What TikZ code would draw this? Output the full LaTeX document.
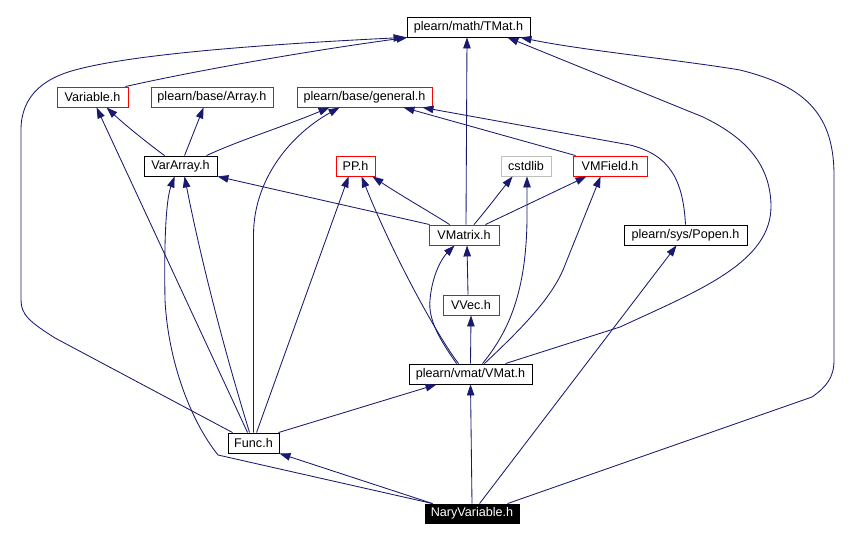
\documentclass[tikz,border=0pt]{standalone}
\usepackage{fontspec}
\setmainfont{Liberation Sans}
\usetikzlibrary{arrows.meta}
\definecolor{edgecol}{HTML}{191970}
\definecolor{grayb}{HTML}{BFBFBF}
\begin{document}
\begin{tikzpicture}[x=1pt,y=-1pt,
  box/.style={draw=black, line width=0.9pt, minimum height=20pt, inner sep=0pt, fill=white,
    font=\fontsize{12.6}{14}\selectfont},
  redbox/.style={box, draw=red},
  graybox/.style={box, draw=grayb},
  darkbox/.style={box, fill=black, text=white, minimum height=19pt},
  edge/.style={draw=edgecol, line width=0.85pt, -{Triangle[length=11pt,width=7.5pt]}},
]
\useasboundingbox[fill=white] (0,0) rectangle (853,540);

% nodes
\node[box, minimum width=123pt] (tmat) at (468.5,27) {plearn/math/TMat.h};
\node[redbox, minimum width=71pt] (variable) at (92.5,97) {Variable.h};
\node[redbox, minimum width=122pt] (array) at (212,97) {plearn/base/Array.h};
\node[redbox, minimum width=135pt] (general) at (364.5,97) {plearn/base/general.h};
\node[box, minimum width=73pt] (vararray) at (180.5,166) {VarArray.h};
\node[redbox, minimum width=39pt] (pp) at (355.5,166) {PP.h};
\node[graybox, minimum width=50pt] (cstdlib) at (526,166) {cstdlib};
\node[redbox, minimum width=74pt] (vmfield) at (610,166) {VMField.h};
\node[redbox, minimum width=70pt] (vmatrix) at (464,235) {VMatrix.h};
\node[box, minimum width=123pt] (popen) at (685.5,235) {plearn/sys/Popen.h};
\node[redbox, minimum width=56pt] (vvec) at (471,305) {VVec.h};
\node[box, minimum width=123pt] (vmat) at (470.5,374) {plearn/vmat/VMat.h};
\node[box, minimum width=51pt] (func) at (253.5,443) {Func.h};
\node[darkbox, minimum width=94pt] (nary) at (472,513.5) {NaryVariable.h};

% edges from NaryVariable.h
\draw[edge] ([xshift=8pt]nary.north west) -- (func.south east);
\draw[edge] (nary.north) -- (vmat.south);
\draw[edge] ([xshift=55pt]nary.north west) -- ([xshift=53pt]popen.south west);
\draw[edge] ([xshift=83pt]nary.north west) -- (812,397)
  .. controls (826,387) and (834,378) .. (834,360) -- (834,175)
  .. controls (834,110) and (800,85) .. (740,70)
  .. controls (680,60) and (580,50) .. ([xshift=-10pt]tmat.south east);
\draw[edge] ([xshift=8pt]nary.north west) -- (218,455)
  .. controls (190,420) and (168,360) .. (165,300)
  .. controls (164,240) and (166,200) .. ([xshift=31pt]vararray.south west);

% edges from Func.h
\draw[edge] ([xshift=5pt]func.north west) -- (55,338)
  .. controls (30,322) and (21,315) .. (21,300) -- (21,130)
  .. controls (21,95) and (45,78) .. (75,70)
  .. controls (130,55) and (250,45) .. ([xshift=-2pt]tmat.south west);
\draw[edge] ([xshift=20pt]func.north west) -- ([xshift=40pt]variable.south west);
\draw[edge] ([xshift=22pt]func.north west)
  .. controls (215,320) and (195,230) .. ([xshift=41pt]vararray.south west);
\draw[edge] (func.north) -- (253.5,235)
  .. controls (253.5,180) and (290,135) .. ([xshift=43pt]general.south west);
\draw[edge] ([xshift=29pt]func.north west) -- ([xshift=13pt]pp.south west);
\draw[edge] ([xshift=-1pt]func.north east) -- ([xshift=28pt]vmat.south west);

% edges from VarArray.h
\draw[edge] ([xshift=21pt]vararray.north west)
  .. controls (150,145) and (125,125) .. ([xshift=50pt]variable.south west);
\draw[edge] ([xshift=41pt]vararray.north west) -- ([xshift=53pt]array.south west);
\draw[edge] ([xshift=63pt]vararray.north west)
  .. controls (240,140) and (280,128) .. ([xshift=33pt]general.south west);

% Variable.h
\draw[edge] ([xshift=-3pt]variable.north east)
  .. controls (190,72) and (300,52) .. ([xshift=1pt]tmat.south west);

% edges from VMatrix.h
\draw[edge] ([xshift=2pt]vmatrix.north) -- ([xshift=-1.5pt]tmat.south);
\draw[edge] ([xshift=1pt]vmatrix.north west) -- (vararray.south east);
\draw[edge] ([xshift=21pt]vmatrix.north west)
  .. controls (435,215) and (400,195) .. ([xshift=-3pt]pp.south east);
\draw[edge] ([xshift=10pt]vmatrix.north)
  .. controls (488,208) and (500,192) .. ([xshift=12pt]cstdlib.south west);
\draw[edge] ([xshift=-14pt]vmatrix.north east) -- ([xshift=14pt]vmfield.south west);

% edges from VMat.h
\draw[edge] ([xshift=-27pt]vmat.north east) -- (620,327)
  .. controls (700,290) and (772,262) .. (771,205)
  .. controls (770,160) and (740,135) .. (703,117)
  -- ([xshift=-23pt]tmat.south east);
\draw[edge] ([xshift=12pt]vmat.north)
  .. controls (510,330) and (526,290) .. (527,220) -- ([xshift=1pt]cstdlib.south);
\draw[edge] ([xshift=14pt]vmat.north)
  .. controls (520,330) and (550,300) .. (563,270) -- ([xshift=28pt]vmfield.south west);
\draw[edge] ([xshift=50pt]vmat.north west)
  .. controls (440,340) and (395,260) .. ([xshift=26pt]pp.south west);
\draw[edge] ([xshift=48pt]vmat.north west)
  .. controls (440,340) and (428,320) .. (430,300)
  .. controls (432,275) and (442,258) .. ([xshift=26pt]vmatrix.south west);
\draw[edge] (vmat.north) -- (vvec.south);

% VVec.h
\draw[edge] ([xshift=-3pt]vvec.north) -- ([xshift=3pt]vmatrix.south);

% VMField.h
\draw[edge] ([xshift=3pt]vmfield.north west) -- ([xshift=-29pt]general.south east);

% Popen.h
\draw[edge] (popen.north)
  .. controls (683,180) and (670,155) .. (630,145) -- ([xshift=-10pt]general.south east);
\end{tikzpicture}
\end{document}
